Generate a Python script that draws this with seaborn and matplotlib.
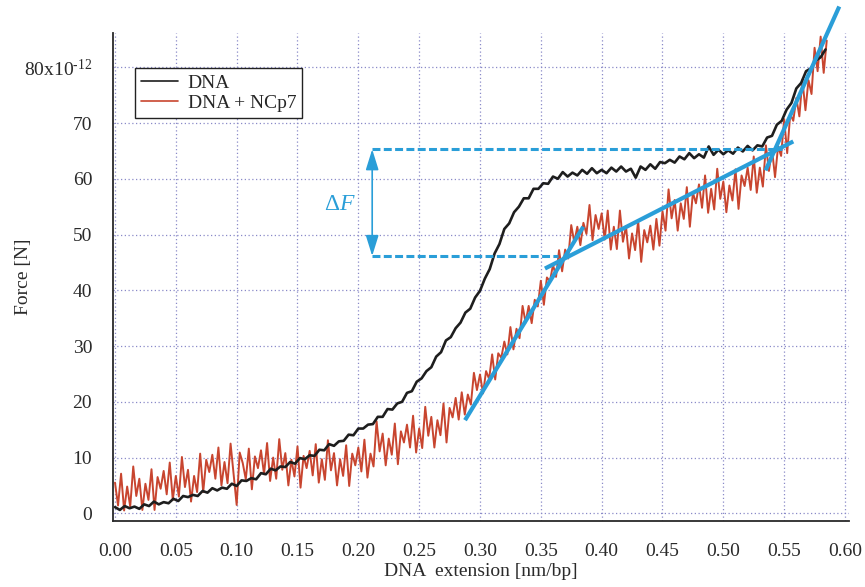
import numpy as np
import pandas as pd
import matplotlib
matplotlib.use("Agg")
import matplotlib.pyplot as plt
import seaborn as sns
from matplotlib.lines import Line2D

# ---------------- data ----------------
dna_force = [
    1.1, 0.6, 1.3, 0.9, 1.2, 0.8, 1.6, 1.3, 2.1, 1.6, 2.0, 1.8, 2.6, 2.2, 3.1, 2.9,
    3.3, 3.1, 4.0, 3.7, 4.5, 4.1, 4.6, 4.4, 5.3, 4.9, 5.9, 5.8, 6.3, 6.1, 7.2, 7.0,
    8.0, 7.7, 8.4, 8.3, 9.2, 8.9, 9.9, 9.7, 10.4, 10.3, 11.4, 11.3, 12.4, 12.1, 12.9, 13.0,
    14.1, 14.0, 15.2, 15.2, 15.9, 16.0, 17.3, 17.3, 18.7, 18.6, 19.7, 20.0, 21.6, 21.9,
    23.6, 24.2, 25.5, 26.2, 28.1, 28.9, 31.0, 31.6, 33.2, 34.2, 36.0, 36.7, 38.7, 39.9,
    42.1, 43.8, 46.6, 48.3, 51.0, 52.0, 54.0, 55.0, 56.5, 56.5, 58.2, 58.2, 59.2, 59.1,
    60.4, 60.0, 61.2, 60.4, 61.1, 60.6, 61.6, 60.9, 61.9, 61.0, 61.6, 61.0, 62.0, 61.3,
    62.2, 61.3, 61.8, 60.2, 62.2, 61.6, 62.6, 61.8, 63.0, 62.8, 63.4, 62.9, 64.0, 63.5,
    64.6, 63.7, 64.4, 63.8, 65.8, 64.3, 65.2, 64.4, 65.1, 64.5, 65.6, 64.9, 65.9, 65.1,
    66.0, 65.8, 67.4, 67.7, 69.7, 70.4, 72.4, 73.6, 76.2, 77.2, 79.3, 79.8, 81.2, 81.8,
    83.2,
]
dna_ext_start, dna_ext_end = 0.0, 0.584

ncp7_force = [
    5.5, 1.4, 7.1, 0.5, 4.8, 1.2, 8.4, 3.1, 6.2, 0.6, 5.3, 2.4, 7.9, 0.6, 6.5, 4.4,
    7.6, 3.4, 9.1, 2.4, 6.7, 3.0, 10.1, 4.7, 7.8, 2.1, 6.7, 3.8, 10.7, 3.8, 9.6, 7.4,
    10.5, 6.2, 11.8, 5.0, 9.2, 5.4, 12.5, 7.0, 1.5, 10.9, 9.0, 6.1, 11.6, 4.3, 10.2, 8.1,
    11.3, 7.0, 12.6, 5.8, 10.0, 6.2, 13.3, 7.8, 10.8, 5.0, 9.6, 6.6, 12.0, 4.6, 10.3, 8.1,
    11.2, 6.8, 12.4, 5.5, 9.7, 6.0, 13.1, 7.7, 10.8, 5.0, 9.7, 6.7, 12.2, 4.9, 10.7, 8.6,
    11.8, 7.5, 13.2, 6.4, 10.7, 8.4, 16.5, 11.1, 14.3, 8.6, 13.4, 10.5, 16.1, 8.8, 14.7, 12.7,
    15.9, 11.8, 17.5, 10.9, 15.2, 11.7, 19.1, 13.9, 17.3, 11.8, 16.7, 14.0, 19.7, 12.7, 18.9, 17.2,
    20.7, 16.8, 21.7, 17.7, 21.3, 19.5, 25.2, 22.1, 24.9, 21.5, 25.5, 24.1, 28.5, 24.0, 28.7, 27.9,
    30.8, 28.5, 33.4, 29.4, 33.1, 31.4, 37.2, 34.2, 37.2, 34.1, 38.3, 37.1, 41.7, 37.4, 42.3, 41.6,
    44.6, 42.4, 47.2, 43.4, 47.3, 45.7, 51.7, 48.6, 51.4, 48.1, 52.1, 50.1, 55.3, 49.0, 53.5, 51.0,
    53.8, 49.1, 54.3, 47.3, 51.4, 47.4, 54.3, 48.7, 51.5, 45.7, 50.2, 47.2, 52.5, 45.1, 50.8, 48.6,
    51.6, 47.3, 52.8, 48.0, 54.2, 50.7, 58.1, 52.9, 56.2, 50.7, 55.6, 52.8, 58.5, 51.4, 57.5, 55.6,
    59.0, 54.8, 60.6, 53.9, 58.2, 54.5, 61.8, 56.4, 59.5, 54.0, 58.8, 56.1, 61.7, 54.6, 60.6, 58.7,
    62.0, 58.0, 64.0, 57.5, 62.0, 58.6, 66.0, 61.4, 65.3, 60.3, 65.8, 64.1, 70.7, 64.6, 71.6, 70.4,
    74.5, 71.2, 77.8, 72.3, 77.7, 75.2, 83.5, 79.3, 85.5, 79.0, 84.8,
]
ncp7_ext_start, ncp7_ext_end = 0.0, 0.585

series_names = ["DNA", "DNA + NCp7"]

# fitted slopes drawn on the NCp7 curve
fit_low_x, fit_low_y = [0.2877, 0.3849], [16.7, 51.4]
fit_mid_x, fit_mid_y = [0.3534, 0.5575], [43.9, 66.7]
fit_high_x, fit_high_y = [0.5347, 0.5953], [61.5, 90.9]

# Delta F annotation
delta_upper_f, delta_lower_f = 65.3, 46.15
delta_x = 0.2114
delta_upper_end, delta_lower_end = 0.548, 0.364

x_ticks = [0.00, 0.05, 0.10, 0.15, 0.20, 0.25, 0.30, 0.35, 0.40, 0.45, 0.50, 0.55, 0.60]
x_tick_labels = ["0.00", "0.05", "0.10", "0.15", "0.20", "0.25", "0.30",
                 "0.35", "0.40", "0.45", "0.50", "0.55", "0.60"]
y_ticks = [0, 10, 20, 30, 40, 50, 60, 70, 80]
y_tick_labels = ["0", "10", "20", "30", "40", "50", "60", "70",
                 "80x10$^{\\mathregular{\u201012}}$"]

# ---------------- styling ----------------
sns.set_theme(style="white")
plt.rcParams["font.family"] = ["Liberation Serif", "DejaVu Serif"]
plt.rcParams["mathtext.fontset"] = "custom"
plt.rcParams["mathtext.rm"] = "Liberation Serif"
plt.rcParams["mathtext.it"] = "Liberation Serif:italic"

BLACK = "#1e1e1e"
RED = "#c8452f"
BLUE = "#2a9ed8"
GRID = "#8a8ac8"

df_dna = pd.DataFrame({
    "ext": np.linspace(dna_ext_start, dna_ext_end, len(dna_force)),
    "force": dna_force,
})
df_ncp7 = pd.DataFrame({
    "ext": np.linspace(ncp7_ext_start, ncp7_ext_end, len(ncp7_force)),
    "force": ncp7_force,
})

fig = plt.figure(figsize=(8.65, 5.87), dpi=100)
ax = fig.add_axes([113 / 865, 66.3 / 587, 736 / 865, 487.7 / 587])

sns.lineplot(data=df_ncp7, x="ext", y="force", ax=ax, color=RED, lw=1.4,
             estimator=None, sort=False, zorder=3)
sns.lineplot(data=df_dna, x="ext", y="force", ax=ax, color=BLACK, lw=1.9,
             estimator=None, sort=False, zorder=4)

for fx, fy in [(fit_low_x, fit_low_y), (fit_mid_x, fit_mid_y), (fit_high_x, fit_high_y)]:
    ax.plot(fx, fy, color=BLUE, lw=3.0, solid_capstyle="butt", zorder=6, clip_on=False)

ax.plot([delta_x, delta_upper_end], [delta_upper_f, delta_upper_f], color=BLUE,
        lw=2.2, ls=(0, (2.6, 1.1)), zorder=5)
ax.plot([delta_x, delta_lower_end], [delta_lower_f, delta_lower_f], color=BLUE,
        lw=2.2, ls=(0, (2.6, 1.1)), zorder=5)
ax.annotate("", xy=(delta_x, delta_lower_f), xytext=(delta_x, delta_upper_f),
            arrowprops=dict(arrowstyle="<|-|>,head_length=0.9,head_width=0.28",
                            color=BLUE, lw=1.2, shrinkA=0, shrinkB=0,
                            mutation_scale=14), zorder=5)
ax.text(0.185, 55.4, r"$\Delta F$", color=BLUE, fontsize=17, ha="center", va="center")

ax.set_xlim(-0.00164, 0.6033)
ax.set_ylim(-1.33, 86.15)
ax.set_xticks(x_ticks)
ax.set_xticklabels(x_tick_labels)
ax.set_yticks(y_ticks)
ax.set_yticklabels(y_tick_labels)

ax.grid(True, color=GRID, ls=(0, (1, 2)), lw=0.9)
ax.set_axisbelow(True)
for side in ["top", "right"]:
    ax.spines[side].set_visible(False)
for side in ["left", "bottom"]:
    ax.spines[side].set_color("#2a2a2a")
    ax.spines[side].set_linewidth(1.3)

ax.tick_params(axis="both", direction="out", length=10, width=1.3,
               labelsize=14, colors="#2a2a2a")
ax.tick_params(axis="x", pad=6)
ax.tick_params(axis="y", pad=5)

ax.set_xlabel("DNA  extension [nm/bp]", fontsize=14, color="#2a2a2a", labelpad=2)
ax.set_ylabel("Force [N]", fontsize=14, color="#2a2a2a")
ax.yaxis.set_label_coords(-0.110, 0.5)

handles = [Line2D([], [], color=BLACK, lw=1.2), Line2D([], [], color=RED, lw=1.2)]
leg = ax.legend(handles, series_names, loc="upper left", bbox_to_anchor=(0.0299, 0.928),
                borderaxespad=0, fancybox=False, framealpha=1, edgecolor="#222222",
                fontsize=14, handlelength=1.9, handletextpad=0.5, labelspacing=0.15,
                borderpad=0.3)
leg.get_frame().set_linewidth(1.0)

fig.savefig("out.png", dpi=100)
